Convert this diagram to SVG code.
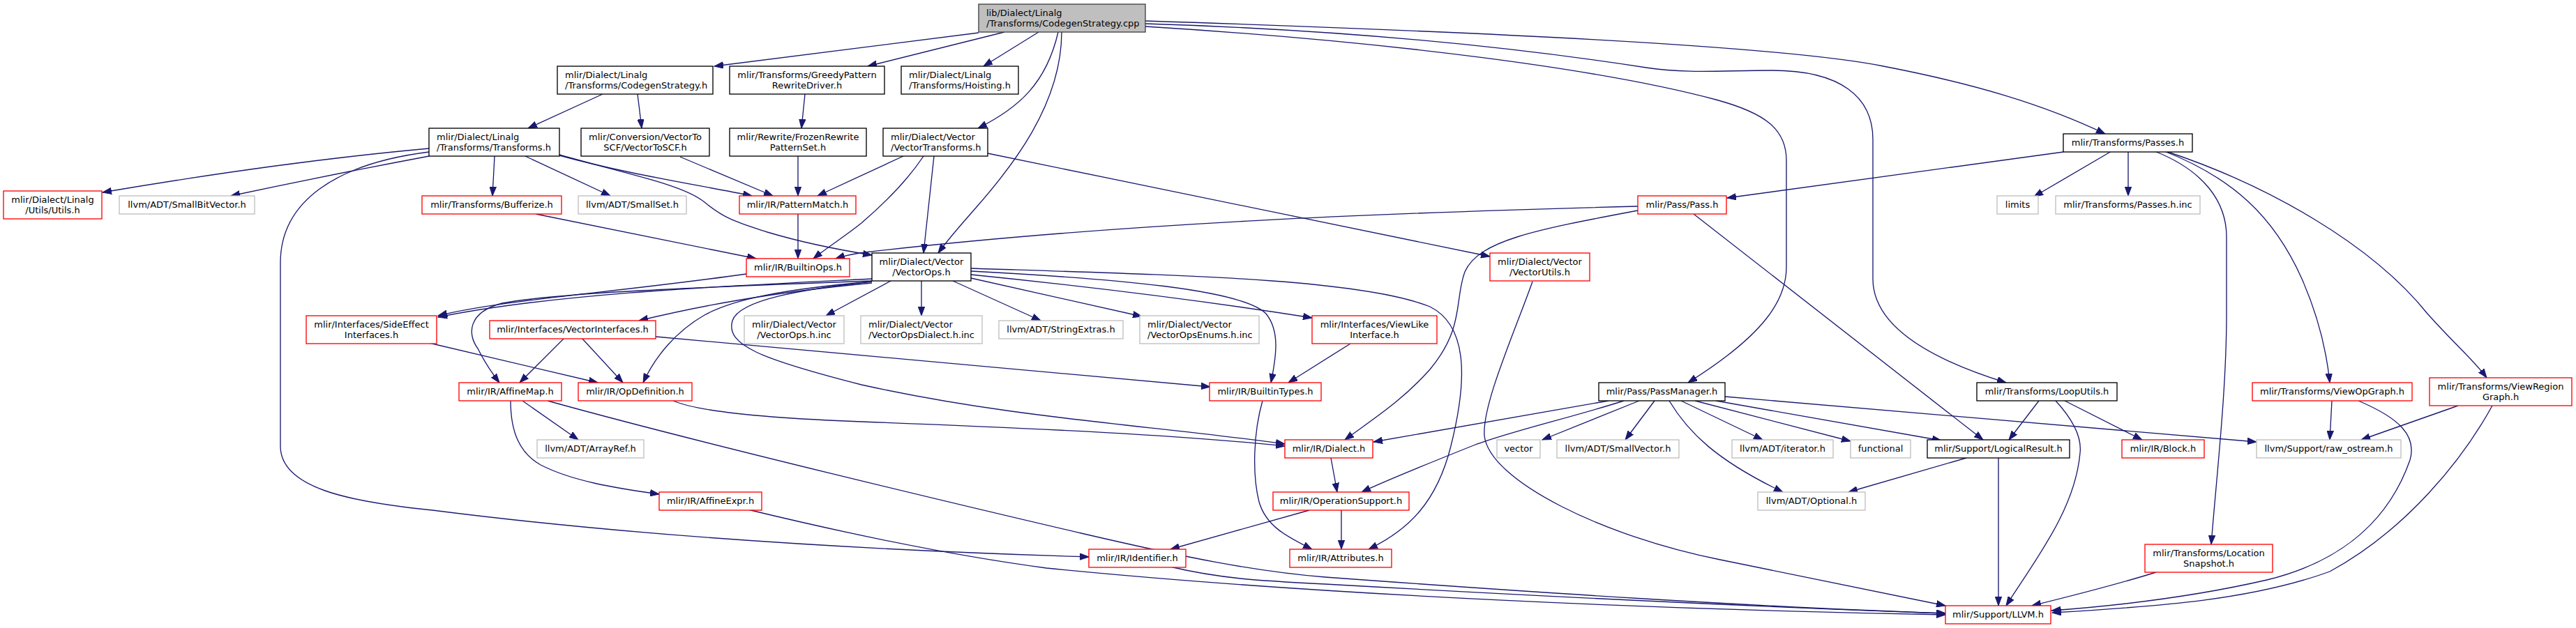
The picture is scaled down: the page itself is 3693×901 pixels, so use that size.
<svg xmlns="http://www.w3.org/2000/svg" width="3693" height="901" viewBox="0 0 3693 901">
<style>
rect{stroke-width:1.33}
.nb{fill:#fff;stroke:#000}
.nr{fill:#fff;stroke:#ff0000}
.ng{fill:#fff;stroke:#bfbfbf}
.nt{fill:#bfbfbf;stroke:#404040}
text{font-family:"DejaVu Sans",sans-serif;font-size:13px;fill:#000}
.c{text-anchor:middle}
.l{text-anchor:start}
#edges path{fill:none;stroke:#191970;stroke-width:1.33;marker-end:url(#ah)}
</style>
<defs>
<marker id="ah" markerUnits="userSpaceOnUse" markerWidth="14" markerHeight="10" refX="13" refY="5" orient="auto" viewBox="0 0 14 10"><path d="M0,0.3 L13,5 L0,9.7 z" fill="#191970" stroke="#191970" stroke-width="1"/></marker>
</defs>
<rect width="3693" height="901" fill="#fff"/>
<g id="edges">
<path d="M1403,47 L1024,95"/>
<path d="M1440,46 L1244,95"/>
<path d="M1489,46 L1410,95"/>
<path d="M1517,46 C1500,120 1460,155 1402,184"/>
<path d="M1522,46 C1522,150 1450,240 1400,297 C1380,320 1360,342 1345,363"/>
<path d="M1642,30 C2100,45 2550,65 2700,95 C2830,120 2930,150 3018,192"/>
<path d="M1642,34 C2000,45 2250,80 2360,97 C2420,106 2470,101 2540,101 C2640,101 2685,140 2685,200 L2685,400 C2685,460 2750,510 2876,549"/>
<path d="M1642,38 C2000,60 2300,100 2460,143 C2530,162 2561,185 2561,230 L2561,383 C2561,430 2530,480 2420,549"/>
<path d="M2958,218 L2476,284"/>
<path d="M3027,217 L2916,282"/>
<path d="M3051,217 L3051,281"/>
<path d="M3089,217 C3160,245 3192,290 3192,340 L3192,450 C3192,560 3178,680 3170,781"/>
<path d="M3103,217 C3200,255 3260,310 3300,400 C3322,450 3335,500 3340,549"/>
<path d="M3105,217 C3250,265 3400,350 3480,450 C3520,495 3545,515 3565,542"/>
<path d="M2348,296 C2000,305 1600,320 1240,362 C1225,364 1210,367 1198,371"/>
<path d="M2348,302 C2200,330 2120,345 2100,390 C2085,430 2100,470 2050,530 C2010,575 1970,600 1928,631"/>
<path d="M2428,307 L2843,631"/>
<path d="M864,135 L757,184"/>
<path d="M914,135 L920,184"/>
<path d="M1154,135 L1149,184"/>
<path d="M615,213 C450,228 300,250 147,276"/>
<path d="M615,224 C530,240 430,260 331,281"/>
<path d="M709,224 L706,281"/>
<path d="M753,224 L875,281"/>
<path d="M802,223 C900,250 1000,265 1078,281"/>
<path d="M802,222 C900,250 980,265 1010,290 C1040,315 1060,320 1100,333 C1150,348 1200,358 1250,366"/>
<path d="M615,218 C480,235 402,290 402,377 L402,640 C402,700 500,720 620,732 C800,755 1100,785 1561,799"/>
<path d="M975,225 L1108,281"/>
<path d="M1144,224 L1144,281"/>
<path d="M1144,307 L1144,371"/>
<path d="M768,307 L1084,371"/>
<path d="M1295,224 L1172,281"/>
<path d="M1324,224 C1300,260 1270,290 1235,320 C1210,340 1190,352 1166,371"/>
<path d="M1339,224 L1324,363"/>
<path d="M1416,220 L2136,368"/>
<path d="M1070,393 C880,420 720,430 628,453"/>
<path d="M1250,400 C1050,410 800,420 628,455"/>
<path d="M1250,403 C1000,412 800,420 720,435 C670,448 670,480 685,500 C695,520 705,535 716,549"/>
<path d="M1250,406 C1100,420 1000,440 916,460"/>
<path d="M1250,404 C1120,415 1050,430 1010,452 C970,475 940,510 922,549"/>
<path d="M1250,404 C1150,415 1060,430 1050,460 C1040,495 1090,515 1235,552 C1450,600 1650,610 1842,637"/>
<path d="M1277,403 L1184,453"/>
<path d="M1321,403 L1321,453"/>
<path d="M1366,403 L1492,460"/>
<path d="M1392,399 L1637,454"/>
<path d="M1392,394 C1600,415 1780,440 1881,456"/>
<path d="M1392,389 C1600,400 1780,415 1815,450 C1835,475 1830,510 1822,549"/>
<path d="M1392,385 C1700,395 1950,400 2050,440 C2110,470 2100,560 2080,640 C2060,720 2020,760 1962,788"/>
<path d="M809,485 L745,549"/>
<path d="M834,485 L893,549"/>
<path d="M940,483 L1735,555"/>
<path d="M615,492 L857,549"/>
<path d="M1936,493 L1847,549"/>
<path d="M749,575 L829,631"/>
<path d="M732,575 C732,620 745,650 775,667 C820,690 880,700 945,709"/>
<path d="M785,575 C1000,635 1400,730 1550,765 C1700,800 1800,820 1900,828 C2200,850 2500,870 2789,880"/>
<path d="M965,575 C1000,590 1100,600 1235,605 C1500,615 1700,625 1842,640"/>
<path d="M1072,731 C1200,762 1350,795 1500,815 C1900,855 2400,875 2789,882"/>
<path d="M1677,813 C1750,830 1800,833 1900,838 C2200,855 2500,870 2789,880"/>
<path d="M1810,575 C1797,620 1795,680 1805,720 C1815,755 1845,770 1881,788"/>
<path d="M1908,657 L1917,706"/>
<path d="M1923,731 L1923,788"/>
<path d="M1877,732 L1678,788"/>
<path d="M2306,575 L1969,634"/>
<path d="M2328,575 C2250,600 2160,620 2110,640 C2040,668 1990,688 1952,706"/>
<path d="M2350,575 L2211,631"/>
<path d="M2372,575 L2330,631"/>
<path d="M2393,575 C2420,620 2460,660 2556,706"/>
<path d="M2410,575 L2527,631"/>
<path d="M2430,575 L2653,633"/>
<path d="M2460,575 L2783,632"/>
<path d="M2473,569 L3235,634"/>
<path d="M2923,575 L2880,631"/>
<path d="M2947,575 C2970,600 2985,625 2982,650 C2975,730 2920,800 2876,869"/>
<path d="M2960,575 L3071,631"/>
<path d="M2819,657 L2650,706"/>
<path d="M2865,657 L2865,869"/>
<path d="M3091,821 C3030,840 2970,855 2913,869"/>
<path d="M3343,575 L3340,631"/>
<path d="M3381,575 C3440,600 3465,625 3455,660 C3420,760 3340,810 3250,832 C3150,855 3050,868 2941,876"/>
<path d="M3524,582 L3385,631"/>
<path d="M3573,582 C3530,660 3450,760 3340,820 C3230,860 3100,870 2942,879"/>
<path d="M2197,404 C2170,480 2125,580 2128,625 C2135,690 2300,770 2466,803 C2600,830 2700,850 2789,869"/>
</g>
<g id="n0"><rect class="nt" x="1403" y="6" width="239" height="40"/><text class="l" x="1414" y="23">lib/Dialect/Linalg</text><text class="l" x="1414" y="37.5">/Transforms/CodegenStrategy.cpp</text></g>
<g id="n1"><rect class="nb" x="799" y="95" width="223" height="40"/><text class="l" x="810" y="112">mlir/Dialect/Linalg</text><text class="l" x="810" y="126.5">/Transforms/CodegenStrategy.h</text></g>
<g id="n2"><rect class="nb" x="1046" y="95" width="222" height="40"/><text class="c" x="1157" y="112">mlir/Transforms/GreedyPattern</text><text class="c" x="1157" y="126.5">RewriteDriver.h</text></g>
<g id="n3"><rect class="nb" x="1292" y="95" width="168" height="40"/><text class="l" x="1303" y="112">mlir/Dialect/Linalg</text><text class="l" x="1303" y="126.5">/Transforms/Hoisting.h</text></g>
<g id="n4"><rect class="nb" x="615" y="184" width="187" height="40"/><text class="l" x="626" y="201">mlir/Dialect/Linalg</text><text class="l" x="626" y="215.5">/Transforms/Transforms.h</text></g>
<g id="n5"><rect class="nb" x="833" y="184" width="184" height="40"/><text class="c" x="925" y="201">mlir/Conversion/VectorTo</text><text class="c" x="925" y="215.5">SCF/VectorToSCF.h</text></g>
<g id="n6"><rect class="nb" x="1046" y="184" width="196" height="40"/><text class="c" x="1144" y="201">mlir/Rewrite/FrozenRewrite</text><text class="c" x="1144" y="215.5">PatternSet.h</text></g>
<g id="n7"><rect class="nb" x="1266" y="184" width="150" height="40"/><text class="l" x="1277" y="201">mlir/Dialect/Vector</text><text class="l" x="1277" y="215.5">/VectorTransforms.h</text></g>
<g id="n8"><rect class="nb" x="2958" y="192" width="185" height="26"/><text class="c" x="3050.5" y="209">mlir/Transforms/Passes.h</text></g>
<g id="n9"><rect class="nr" x="5" y="274" width="141" height="40"/><text class="c" x="75.5" y="291">mlir/Dialect/Linalg</text><text class="c" x="75.5" y="305.5">/Utils/Utils.h</text></g>
<g id="n10"><rect class="ng" x="171" y="281" width="194" height="26"/><text class="c" x="268" y="298">llvm/ADT/SmallBitVector.h</text></g>
<g id="n11"><rect class="nr" x="605" y="281" width="200" height="26"/><text class="c" x="705" y="298">mlir/Transforms/Bufferize.h</text></g>
<g id="n12"><rect class="ng" x="829" y="281" width="155" height="26"/><text class="c" x="906.5" y="298">llvm/ADT/SmallSet.h</text></g>
<g id="n13"><rect class="nr" x="1060" y="281" width="167" height="26"/><text class="c" x="1143.5" y="298">mlir/IR/PatternMatch.h</text></g>
<g id="n14"><rect class="nr" x="2348" y="281" width="127" height="26"/><text class="c" x="2411.5" y="298">mlir/Pass/Pass.h</text></g>
<g id="n15"><rect class="ng" x="2863" y="281" width="59" height="26"/><text class="c" x="2892.5" y="298">limits</text></g>
<g id="n16"><rect class="ng" x="2947" y="281" width="207" height="26"/><text class="c" x="3050.5" y="298">mlir/Transforms/Passes.h.inc</text></g>
<g id="n17"><rect class="nr" x="1070" y="371" width="148" height="26"/><text class="c" x="1144" y="388">mlir/IR/BuiltinOps.h</text></g>
<g id="n18"><rect class="nb" x="1250" y="363" width="142" height="40"/><text class="c" x="1321" y="380">mlir/Dialect/Vector</text><text class="c" x="1321" y="394.5">/VectorOps.h</text></g>
<g id="n19"><rect class="nr" x="2136" y="363" width="143" height="40"/><text class="c" x="2207.5" y="380">mlir/Dialect/Vector</text><text class="c" x="2207.5" y="394.5">/VectorUtils.h</text></g>
<g id="n20"><rect class="nr" x="439" y="453" width="187" height="40"/><text class="c" x="532.5" y="470">mlir/Interfaces/SideEffect</text><text class="c" x="532.5" y="484.5">Interfaces.h</text></g>
<g id="n21"><rect class="nr" x="702" y="460" width="238" height="26"/><text class="c" x="821" y="477">mlir/Interfaces/VectorInterfaces.h</text></g>
<g id="n22"><rect class="ng" x="1067" y="453" width="143" height="40"/><text class="c" x="1138.5" y="470">mlir/Dialect/Vector</text><text class="c" x="1138.5" y="484.5">/VectorOps.h.inc</text></g>
<g id="n23"><rect class="ng" x="1234" y="453" width="174" height="40"/><text class="l" x="1245" y="470">mlir/Dialect/Vector</text><text class="l" x="1245" y="484.5">/VectorOpsDialect.h.inc</text></g>
<g id="n24"><rect class="ng" x="1432" y="460" width="178" height="26"/><text class="c" x="1521" y="477">llvm/ADT/StringExtras.h</text></g>
<g id="n25"><rect class="ng" x="1634" y="453" width="171" height="40"/><text class="l" x="1645" y="470">mlir/Dialect/Vector</text><text class="l" x="1645" y="484.5">/VectorOpsEnums.h.inc</text></g>
<g id="n26"><rect class="nr" x="1881" y="453" width="179" height="40"/><text class="c" x="1970.5" y="470">mlir/Interfaces/ViewLike</text><text class="c" x="1970.5" y="484.5">Interface.h</text></g>
<g id="n27"><rect class="nr" x="658" y="549" width="147" height="26"/><text class="c" x="731.5" y="566">mlir/IR/AffineMap.h</text></g>
<g id="n28"><rect class="nr" x="829" y="549" width="163" height="26"/><text class="c" x="910.5" y="566">mlir/IR/OpDefinition.h</text></g>
<g id="n29"><rect class="nr" x="1734" y="549" width="160" height="26"/><text class="c" x="1814" y="566">mlir/IR/BuiltinTypes.h</text></g>
<g id="n30"><rect class="nb" x="2292" y="549" width="181" height="26"/><text class="c" x="2382.5" y="566">mlir/Pass/PassManager.h</text></g>
<g id="n31"><rect class="nb" x="2834" y="549" width="201" height="26"/><text class="c" x="2934.5" y="566">mlir/Transforms/LoopUtils.h</text></g>
<g id="n32"><rect class="nr" x="3229" y="549" width="229" height="26"/><text class="c" x="3343.5" y="566">mlir/Transforms/ViewOpGraph.h</text></g>
<g id="n33"><rect class="nr" x="3483" y="542" width="204" height="40"/><text class="c" x="3585" y="559">mlir/Transforms/ViewRegion</text><text class="c" x="3585" y="573.5">Graph.h</text></g>
<g id="n34"><rect class="ng" x="770" y="631" width="153" height="26"/><text class="c" x="846.5" y="648">llvm/ADT/ArrayRef.h</text></g>
<g id="n35"><rect class="nr" x="1842" y="631" width="126" height="26"/><text class="c" x="1905" y="648">mlir/IR/Dialect.h</text></g>
<g id="n36"><rect class="ng" x="2146" y="631" width="62" height="26"/><text class="c" x="2177" y="648">vector</text></g>
<g id="n37"><rect class="ng" x="2232" y="631" width="175" height="26"/><text class="c" x="2319.5" y="648">llvm/ADT/SmallVector.h</text></g>
<g id="n38"><rect class="ng" x="2483" y="631" width="145" height="26"/><text class="c" x="2555.5" y="648">llvm/ADT/iterator.h</text></g>
<g id="n39"><rect class="ng" x="2653" y="631" width="86" height="26"/><text class="c" x="2696" y="648">functional</text></g>
<g id="n40"><rect class="nb" x="2763" y="631" width="204" height="26"/><text class="c" x="2865" y="648">mlir/Support/LogicalResult.h</text></g>
<g id="n41"><rect class="nr" x="3042" y="631" width="118" height="26"/><text class="c" x="3101" y="648">mlir/IR/Block.h</text></g>
<g id="n42"><rect class="ng" x="3235" y="631" width="207" height="26"/><text class="c" x="3338.5" y="648">llvm/Support/raw_ostream.h</text></g>
<g id="n43"><rect class="nr" x="945" y="706" width="147" height="26"/><text class="c" x="1018.5" y="723">mlir/IR/AffineExpr.h</text></g>
<g id="n44"><rect class="nr" x="1825" y="706" width="195" height="26"/><text class="c" x="1922.5" y="723">mlir/IR/OperationSupport.h</text></g>
<g id="n45"><rect class="ng" x="2520" y="706" width="154" height="26"/><text class="c" x="2597" y="723">llvm/ADT/Optional.h</text></g>
<g id="n46"><rect class="nr" x="1561" y="788" width="139" height="26"/><text class="c" x="1630.5" y="805">mlir/IR/Identifier.h</text></g>
<g id="n47"><rect class="nr" x="1849" y="788" width="146" height="26"/><text class="c" x="1922" y="805">mlir/IR/Attributes.h</text></g>
<g id="n48"><rect class="nr" x="3075" y="781" width="183" height="40"/><text class="c" x="3166.5" y="798">mlir/Transforms/Location</text><text class="c" x="3166.5" y="812.5">Snapshot.h</text></g>
<g id="n49"><rect class="nr" x="2789" y="869" width="151" height="26"/><text class="c" x="2864.5" y="886">mlir/Support/LLVM.h</text></g>
</svg>
